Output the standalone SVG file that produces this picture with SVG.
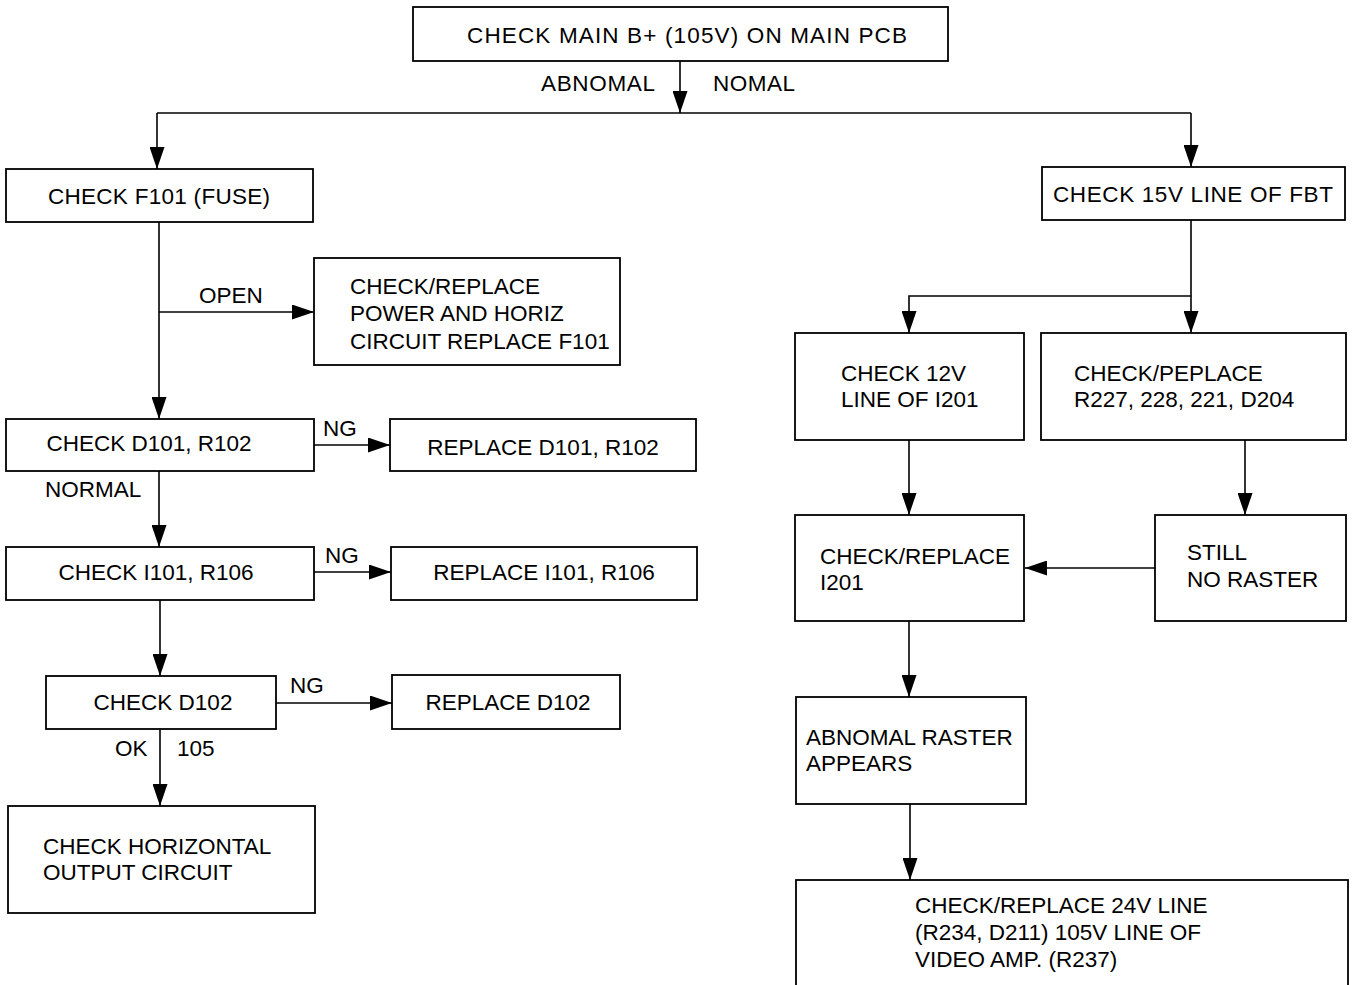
<svg xmlns="http://www.w3.org/2000/svg" width="1355" height="985" viewBox="0 0 1355 985">
<style>
.box{fill:#fff;stroke:#000;stroke-width:1.8}
.ln{fill:none;stroke:#000;stroke-width:1.6}
text{font-family:"Liberation Sans",Arial,sans-serif;font-size:22.5px;fill:#000}
.c{text-anchor:middle}
</style>
<defs>
<marker id="ah" markerUnits="userSpaceOnUse" markerWidth="22" markerHeight="15" refX="22" refY="7.5" orient="auto">
<path d="M0,0 L22,7.5 L0,15 z" fill="#000"/>
</marker>
</defs>
<rect width="1355" height="985" fill="#fff"/>
<g id="connectors">
<path class="ln" d="M680,61 V113" marker-end="url(#ah)"/>
<path class="ln" d="M157,113 H1191"/>
<path class="ln" d="M157,113 V169" marker-end="url(#ah)"/>
<path class="ln" d="M1191,113 V167" marker-end="url(#ah)"/>
<path class="ln" d="M159,222 V419" marker-end="url(#ah)"/>
<path class="ln" d="M159,312 H314" marker-end="url(#ah)"/>
<path class="ln" d="M314,445 H390" marker-end="url(#ah)"/>
<path class="ln" d="M159,471 V547" marker-end="url(#ah)"/>
<path class="ln" d="M314,572 H391" marker-end="url(#ah)"/>
<path class="ln" d="M160,600 V676" marker-end="url(#ah)"/>
<path class="ln" d="M276,703 H392" marker-end="url(#ah)"/>
<path class="ln" d="M160,729 V806" marker-end="url(#ah)"/>
<path class="ln" d="M1191,220 V333" marker-end="url(#ah)"/>
<path class="ln" d="M1191,296 H909 V333" marker-end="url(#ah)"/>
<path class="ln" d="M909,440 V515" marker-end="url(#ah)"/>
<path class="ln" d="M1245,440 V515" marker-end="url(#ah)"/>
<path class="ln" d="M1155,568 H1025" marker-end="url(#ah)"/>
<path class="ln" d="M909,621 V697" marker-end="url(#ah)"/>
<path class="ln" d="M910,804 V880" marker-end="url(#ah)"/>
<text x="541" y="91" textLength="114">ABNOMAL</text>
<text x="713" y="91" textLength="82">NOMAL</text>
<text x="199" y="303">OPEN</text>
<text x="323" y="436">NG</text>
<text x="45" y="497">NORMAL</text>
<text x="325" y="563">NG</text>
<text x="290" y="693">NG</text>
<text x="115" y="756">OK</text>
<text x="177" y="756">105</text>
</g>
<g id="n-main">
<rect class="box" x="413" y="7" width="535" height="54"/>
<text x="467" y="43" textLength="440">CHECK MAIN B+ (105V) ON MAIN PCB</text>
</g>
<g id="n-f101">
<rect class="box" x="6" y="169" width="307" height="53"/>
<text x="48" y="204" textLength="222">CHECK F101 (FUSE)</text>
</g>
<g id="n-power">
<rect class="box" x="314" y="258" width="306" height="107"/>
<text x="350" y="294">CHECK/REPLACE</text>
<text x="350" y="321">POWER AND HORIZ</text>
<text x="350" y="349">CIRCUIT REPLACE F101</text>
</g>
<g id="n-d101">
<rect class="box" x="6" y="419" width="308" height="52"/>
<text class="c" x="149" y="451">CHECK D101, R102</text>
</g>
<g id="n-rd101">
<rect class="box" x="390" y="419" width="306" height="52"/>
<text class="c" x="543" y="455">REPLACE D101, R102</text>
</g>
<g id="n-i101">
<rect class="box" x="6" y="547" width="308" height="53"/>
<text class="c" x="156" y="580">CHECK I101, R106</text>
</g>
<g id="n-ri101">
<rect class="box" x="391" y="547" width="306" height="53"/>
<text class="c" x="544" y="580">REPLACE I101, R106</text>
</g>
<g id="n-d102">
<rect class="box" x="46" y="676" width="230" height="53"/>
<text class="c" x="163" y="710">CHECK D102</text>
</g>
<g id="n-rd102">
<rect class="box" x="392" y="675" width="228" height="54"/>
<text class="c" x="508" y="710">REPLACE D102</text>
</g>
<g id="n-hout">
<rect class="box" x="8" y="806" width="307" height="107"/>
<text x="43" y="854">CHECK HORIZONTAL</text>
<text x="43" y="880">OUTPUT CIRCUIT</text>
</g>
<g id="n-fbt">
<rect class="box" x="1042" y="167" width="303" height="53"/>
<text x="1053" y="202" textLength="280">CHECK 15V LINE OF FBT</text>
</g>
<g id="n-12v">
<rect class="box" x="795" y="333" width="229" height="107"/>
<text x="841" y="381">CHECK 12V</text>
<text x="841" y="407">LINE OF I201</text>
</g>
<g id="n-peplace">
<rect class="box" x="1041" y="333" width="305" height="107"/>
<text x="1074" y="381">CHECK/PEPLACE</text>
<text x="1074" y="407">R227, 228, 221, D204</text>
</g>
<g id="n-i201">
<rect class="box" x="795" y="515" width="229" height="106"/>
<text x="820" y="564">CHECK/REPLACE</text>
<text x="820" y="590">I201</text>
</g>
<g id="n-still">
<rect class="box" x="1155" y="515" width="191" height="106"/>
<text x="1187" y="560">STILL</text>
<text x="1187" y="587">NO RASTER</text>
</g>
<g id="n-abn">
<rect class="box" x="796" y="697" width="230" height="107"/>
<text x="806" y="745">ABNOMAL RASTER</text>
<text x="806" y="771">APPEARS</text>
</g>
<g id="n-final">
<rect class="box" x="796" y="880" width="552" height="120"/>
<text x="915" y="913">CHECK/REPLACE 24V LINE</text>
<text x="915" y="940">(R234, D211) 105V LINE OF</text>
<text x="915" y="967">VIDEO AMP. (R237)</text>
</g>
</svg>
